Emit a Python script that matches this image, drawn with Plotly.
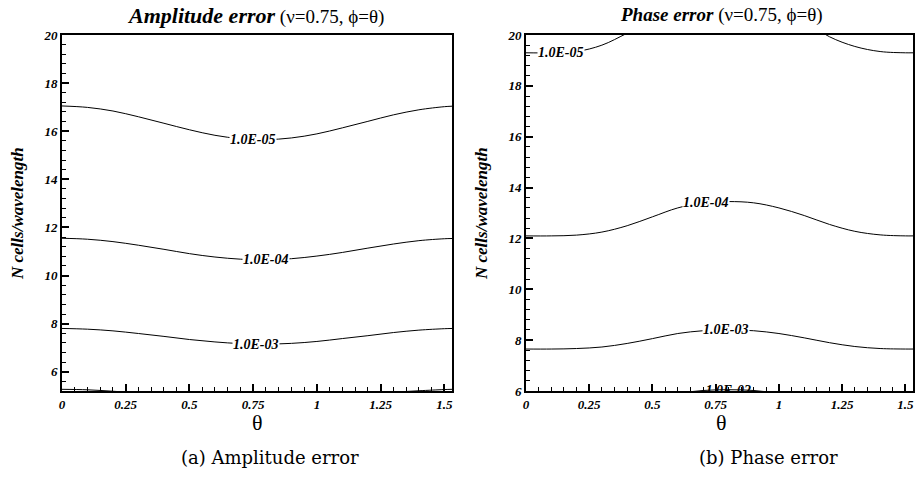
import plotly.graph_objects as go

# ---------------- data ----------------
theta = [0.0, 0.1, 0.2, 0.3, 0.4, 0.5, 0.6, 0.7, 0.8, 0.9, 1.0, 1.1, 1.2, 1.3, 1.4, 1.5, 1.53]

# (a) amplitude error contours: N cells/wavelength vs theta
amp_1e5 = [17.05, 16.99, 16.84, 16.60, 16.33, 16.06, 15.83, 15.69, 15.65, 15.72, 15.89, 16.14, 16.41, 16.68, 16.89, 17.02, 17.04]
amp_1e4 = [11.55, 11.51, 11.41, 11.26, 11.09, 10.91, 10.77, 10.68, 10.65, 10.70, 10.81, 10.96, 11.14, 11.31, 11.45, 11.53, 11.54]
amp_1e3 = [7.80, 7.77, 7.70, 7.59, 7.47, 7.34, 7.24, 7.17, 7.15, 7.18, 7.26, 7.38, 7.50, 7.63, 7.73, 7.79, 7.80]
amp_1e2 = [5.27, 5.25, 5.19, 5.12, 5.05, 4.98, 4.92, 4.88, 4.87, 4.89, 4.94, 5.01, 5.08, 5.15, 5.21, 5.26, 5.27]

# (b) phase error contours
ph_1e5 = [19.30, 19.30, 19.35, 19.60, 20.07, 20.55, 21.05, 21.35, 21.40, 21.35, 21.05, 20.55, 19.93, 19.55, 19.35, 19.30, 19.30]
ph_1e4 = [12.10, 12.10, 12.13, 12.25, 12.50, 12.85, 13.20, 13.40, 13.45, 13.40, 13.20, 12.90, 12.55, 12.28, 12.14, 12.10, 12.10]
ph_1e3 = [7.65, 7.65, 7.67, 7.73, 7.87, 8.06, 8.26, 8.37, 8.40, 8.37, 8.26, 8.09, 7.90, 7.75, 7.67, 7.65, 7.65]
ph_1e2 = [5.05, 5.05, 5.07, 5.15, 5.40, 5.68, 5.90, 6.02, 6.05, 6.02, 5.90, 5.70, 5.45, 5.20, 5.08, 5.05, 5.05]

# contour labels: (text, theta, N)
amp_labels = [("1.0E-05", 0.75, 15.66), ("1.0E-04", 0.80, 10.65), ("1.0E-03", 0.76, 7.15)]
ph_labels = [("1.0E-05", 0.14, 19.30), ("1.0E-04", 0.71, 13.42), ("1.0E-03", 0.79, 8.42)]
ph_clipped_label = ("1.0E-02", 0.80, 6.0)

x_ticks = [0, 0.25, 0.5, 0.75, 1, 1.25, 1.5]
x_tick_text = ["0", "0.25", "0.5", "0.75", "1", "1.25", "1.5"]

# ---------------- figure ----------------
W, H = 916, 481
fig = go.Figure()

line_style = dict(color="black", width=1, shape="spline")
for vals in [amp_1e5, amp_1e4, amp_1e3, amp_1e2]:
    fig.add_trace(go.Scatter(x=theta, y=vals, mode="lines", line=line_style,
                             xaxis="x", yaxis="y", showlegend=False, hoverinfo="skip"))
for vals in [ph_1e5, ph_1e4, ph_1e3, ph_1e2]:
    fig.add_trace(go.Scatter(x=theta, y=vals, mode="lines", line=line_style,
                             xaxis="x2", yaxis="y2", showlegend=False, hoverinfo="skip"))

serif = "Liberation Serif"
lab_font = dict(family=serif, size=14, color="black", weight="bold", style="italic")

# label at the bottom of panel (b), clipped by the frame
fig.add_trace(go.Scatter(x=[ph_clipped_label[1]], y=[ph_clipped_label[2]], mode="text",
                         text=[ph_clipped_label[0]], textfont=lab_font, textposition="middle center",
                         cliponaxis=True, xaxis="x2", yaxis="y2", showlegend=False, hoverinfo="skip"))

annotations = []
for txt, tx, ny in amp_labels:
    annotations.append(dict(x=tx, y=ny, xref="x", yref="y", text=txt, showarrow=False,
                            xanchor="center", yanchor="middle",
                            font=lab_font, bgcolor="white", borderpad=0))
for txt, tx, ny in ph_labels:
    annotations.append(dict(x=tx, y=ny, xref="x2", yref="y2", text=txt, showarrow=False,
                            xanchor="center", yanchor="middle",
                            font=lab_font, bgcolor="white", borderpad=0))

def px(x):
    return x / W

def py(y):
    return 1 - y / H

def paper_text(xc, yc, text, font, angle=0):
    return dict(x=px(xc), y=py(yc), xref="paper", yref="paper", showarrow=False,
                xanchor="center", yanchor="middle", text=text, textangle=angle, font=font)

# panel titles
annotations.append(paper_text(255, 15,
                              "<b><i><span style='font-size:22px'>Amplitude error</span></i></b> (ν=0.75, ϕ=θ)",
                              dict(family=serif, size=19, color="black")))
annotations.append(paper_text(721, 15,
                              "<b><i>Phase error</i></b> (ν=0.75, ϕ=θ)",
                              dict(family=serif, size=19, color="black")))
# x titles
for xc in [257, 721]:
    annotations.append(paper_text(xc, 422, "θ", dict(family=serif, size=22, color="black")))
# y titles
for xc in [17, 481]:
    annotations.append(paper_text(xc, 214, "N cells/wavelength",
                                  dict(family=serif, size=17, color="black", weight="bold", style="italic"),
                                  angle=-90))
# captions
annotations.append(paper_text(270, 457, "(a) Amplitude error",
                              dict(family="DejaVu Serif", size=18, color="black")))
annotations.append(paper_text(768, 457, "(b) Phase error",
                              dict(family="DejaVu Serif", size=18, color="black")))

tick_font = dict(family=serif, size=13, color="black", weight="bold", style="italic")

def xaxis(domain):
    return dict(domain=domain, range=[0, 1.53], tickmode="array", tickvals=x_ticks, ticktext=x_tick_text,
                ticks="inside", ticklen=7, tickwidth=2, tickcolor="black",
                minor=dict(dtick=0.05, tick0=0, ticks="inside", ticklen=4, tickwidth=1, tickcolor="black", showgrid=False),
                showline=True, linewidth=2, linecolor="black", mirror=True, automargin=False,
                showgrid=False, zeroline=False, tickfont=tick_font, fixedrange=True)

def yaxis(domain, rng, anchor):
    return dict(domain=domain, range=rng, dtick=2, tick0=0, anchor=anchor,
                ticks="inside", ticklen=7, tickwidth=2, tickcolor="black",
                minor=dict(dtick=0.4, tick0=0, ticks="inside", ticklen=4, tickwidth=1, tickcolor="black", showgrid=False),
                showline=True, linewidth=2, linecolor="black", mirror=True, automargin=False,
                showgrid=False, zeroline=False, tickfont=tick_font, fixedrange=True)

y_dom = [py(391), py(35)]
fig.update_layout(
    width=W, height=H,
    margin=dict(l=0, r=0, t=0, b=0, pad=0, autoexpand=False),
    paper_bgcolor="white", plot_bgcolor="white",
    xaxis=dict(**xaxis([px(62), px(452)]), anchor="y"),
    yaxis=yaxis(y_dom, [5.2, 20], "x"),
    xaxis2=dict(**xaxis([px(526), px(913)]), anchor="y2"),
    yaxis2=yaxis(y_dom, [6, 20], "x2"),
    annotations=annotations,
    showlegend=False,
)

fig.write_html("out.html", config={"displayModeBar": False},
               post_script="document.body.style.margin='0px';document.documentElement.style.overflow='hidden';document.body.style.overflow='hidden';")
